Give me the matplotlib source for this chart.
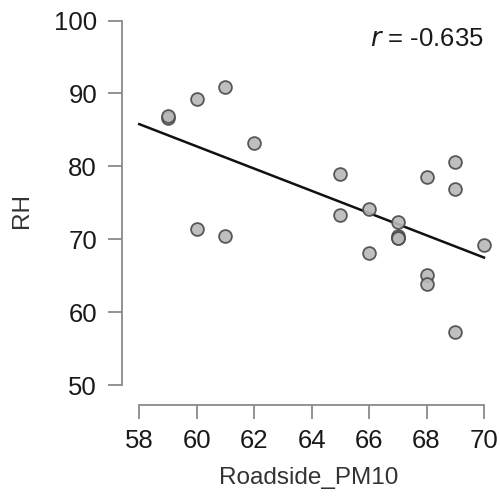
import numpy as np
import matplotlib
matplotlib.use("Agg")
import matplotlib.pyplot as plt

plt.rcParams['font.family'] = ['Liberation Sans', 'DejaVu Sans']

pm10 = [59, 59, 60, 60, 61, 61, 62, 65, 65, 66, 66, 67, 67, 67, 67, 68, 68, 68, 69, 69, 69, 70]
rh = [86.6, 86.9, 89.3, 71.4, 90.9, 70.5, 83.2, 78.9, 73.3, 74.1, 68.1, 72.4, 70.4, 70.1, 70.2,
      78.6, 65.1, 63.9, 80.6, 76.9, 57.3, 69.2]
x_ticks = [58, 60, 62, 64, 66, 68, 70]
y_ticks = [50, 60, 70, 80, 90, 100]
r_label = "-0.635"

fig = plt.figure(figsize=(5.0, 4.97), dpi=100)
ax = fig.add_axes([0.244, 0.185, 0.747, 0.781])

ax.scatter(pm10, rh, s=85, facecolor='#b8b8b8', edgecolor='#4a4a4a', linewidth=1.3, alpha=0.9, zorder=3)
slope, intercept = np.polyfit(pm10, rh, 1)
xl = np.array([58, 70])
ax.plot(xl, intercept + slope * xl, color='#111111', lw=1.8, zorder=2)

ax.set_xlim(57.4, 70.4)
ax.set_ylim(47.25, 100.5)
ax.set_xticks(x_ticks)
ax.set_yticks(y_ticks)
for s in ['top', 'right']:
    ax.spines[s].set_visible(False)
ax.spines['left'].set_bounds(50, 100)
ax.spines['bottom'].set_bounds(58, 70)
for s in ['left', 'bottom']:
    ax.spines[s].set_color('#8a8a8a')
    ax.spines[s].set_linewidth(1.3)
ax.tick_params(axis='both', length=10, width=1.3, color='#8a8a8a', labelsize=18.5, labelcolor='#1a1a1a')
ax.tick_params(axis='y', pad=8)
ax.tick_params(axis='x', pad=7)
ax.set_xlabel('Roadside_PM10', fontsize=17.5, color='#333333', labelpad=10)
ax.set_ylabel('RH', fontsize=17.5, color='#333333', labelpad=15)

ax.text(70, 97.5, r'$\it{r}$ = ' + r_label, ha='right', va='center', fontsize=18.5, color='#1a1a1a')

fig.savefig('out.png', dpi=100)
